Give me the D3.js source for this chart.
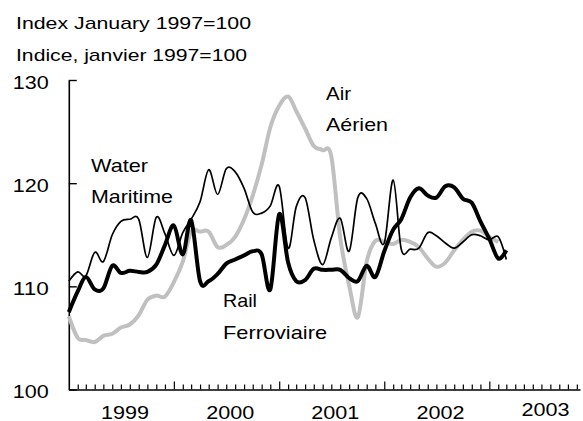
<!DOCTYPE html>
<html><head><meta charset="utf-8">
<script src="https://cdn.jsdelivr.net/npm/d3@7"></script>
<style>
html,body{margin:0;padding:0;background:#fff;}
svg{display:block;}
text{font-family:"Liberation Sans",Arial,Helvetica,sans-serif;fill:#000;}
</style>
</head><body>
<svg id="chart" width="583" height="421"></svg>
<script>
// ---- data (monthly, starting January 1999) ----
const firstMonth = [1999, 0];
const railValues = [107.5,109.5,110.9,109.7,109.8,112.0,111.3,111.5,111.4,111.4,112.1,114.0,115.9,113.1,116.4,110.5,110.5,111.2,112.2,112.6,113.0,113.4,113.1,109.7,117.0,112.3,110.5,110.6,111.7,111.6,111.6,111.6,110.8,110.5,112.0,110.9,113.4,115.5,116.5,118.6,119.5,118.8,118.6,119.7,119.6,118.5,118.1,116.3,114.6,112.7,113.5];
const waterValues = [110.5,111.4,111.0,113.3,112.4,115.0,116.3,116.5,116.5,112.8,116.7,115.1,113.0,115.2,116.5,118.2,121.3,118.9,121.4,121.1,119.5,117.2,117.1,117.8,119.7,113.7,117.7,118.6,114.5,112.1,114.7,116.6,113.4,118.6,118.5,116.1,114.2,120.3,113.6,113.6,113.7,115.2,114.9,114.2,113.7,114.3,115.0,114.9,114.5,114.8,112.6];
const airValues = [107.1,105.0,104.8,104.6,105.2,105.4,106.0,106.3,107.2,108.7,109.1,109.0,110.4,112.4,115.3,115.3,115.3,113.8,114.0,114.8,116.5,118.8,121.8,125.4,127.5,128.4,127.0,125.3,123.6,123.2,122.6,114.7,110.1,107.0,112.4,114.4,114.3,114.1,114.5,114.3,113.8,112.7,111.9,112.3,113.5,114.5,115.3,115.4,114.8,114.3];
const yTickValues = [100,110,120,130];
const yearLabels = [1999,2000,2001,2002,2003];
const titleLines = ["Index January 1997=100","Indice, janvier 1997=100"];
const railName = ["Rail","Ferroviaire"];
const waterName = ["Water","Maritime"];
const airName = ["Air","Aérien"];

// ---- layout ----
const svg = d3.select("#chart");
const t0 = new Date(firstMonth[0], firstMonth[1], 1);
const tEnd = new Date(2003, 10, 12);
const x = d3.scaleTime().domain([t0, tEnd]).range([68.8, 580]);
const y = d3.scaleLinear().domain([100, 130]).range([389.5, 80]);
const monthDate = i => d3.timeMonth.offset(t0, i);

function label(txt, px, py, size, len, anchor) {
  const t = svg.append("text").attr("x", px).attr("y", py)
    .attr("font-size", size).attr("text-anchor", anchor || "start").text(txt);
  if (len) t.attr("textLength", len).attr("lengthAdjust", "spacingAndGlyphs");
  return t;
}

// title
label(titleLines[0], 16, 28.5, 17, 235);
label(titleLines[1], 16, 61, 17, 231);

// x axis
const monthTicks = d3.timeMonth.range(d3.timeMonth.offset(t0, 1), new Date(2003, 10, 2));
const gx = svg.append("g").attr("transform", `translate(0,${y(100)})`)
  .call(d3.axisBottom(x).tickValues(monthTicks).tickSize(-5).tickSizeOuter(0).tickFormat(""));
gx.select(".domain").attr("stroke", "#000").attr("stroke-width", 1.6);
gx.selectAll(".tick line").attr("stroke", "#000").attr("stroke-width", 1.2);
gx.selectAll(".tick line").filter(d => d.getMonth() === 0).attr("y2", -8);

// y axis
const gy = svg.append("g").attr("transform", `translate(${x(t0)},0)`)
  .call(d3.axisLeft(y).tickValues(yTickValues).tickSize(-8).tickSizeOuter(0).tickPadding(20).tickFormat(d3.format("d")));
gy.select(".domain").attr("stroke", "#000").attr("stroke-width", 1.6);
gy.selectAll(".tick line").attr("stroke", "#000").attr("stroke-width", 1.4);
gy.selectAll(".tick text").attr("font-size", 18).attr("font-family", "Liberation Sans, Arial, sans-serif")
  .attr("dy", "0.47em").attr("textLength", 36).attr("lengthAdjust", "spacingAndGlyphs");

// year labels
yearLabels.forEach(yr => {
  label(String(yr), x(new Date(yr, 6, 15)), yr === 2003 ? 416 : 418.5, 19, 48, "middle");
});

// lines
const line = d3.line().x((d, i) => x(monthDate(i))).y(d => y(d)).curve(d3.curveCardinal.tension(0));
svg.append("path").datum(airValues).attr("d", line).attr("fill", "none")
  .attr("stroke", "#c0c0c0").attr("stroke-width", 4).attr("stroke-linejoin", "round");
svg.append("path").datum(waterValues).attr("d", line).attr("fill", "none")
  .attr("stroke", "#000").attr("stroke-width", 1.7).attr("stroke-linejoin", "round");
svg.append("path").datum(railValues).attr("d", line).attr("fill", "none")
  .attr("stroke", "#000").attr("stroke-width", 4).attr("stroke-linejoin", "round");

// series labels
label(waterName[0], 91, 171.5, 18.5, 57);
label(waterName[1], 91, 203, 18.5, 82);
label(airName[0], 326, 100, 18.5, 25);
label(airName[1], 326, 131, 18.5, 62);
label(railName[0], 223, 307, 18.5, 34);
label(railName[1], 223, 338.5, 18.5, 104);
</script>
</body></html>
